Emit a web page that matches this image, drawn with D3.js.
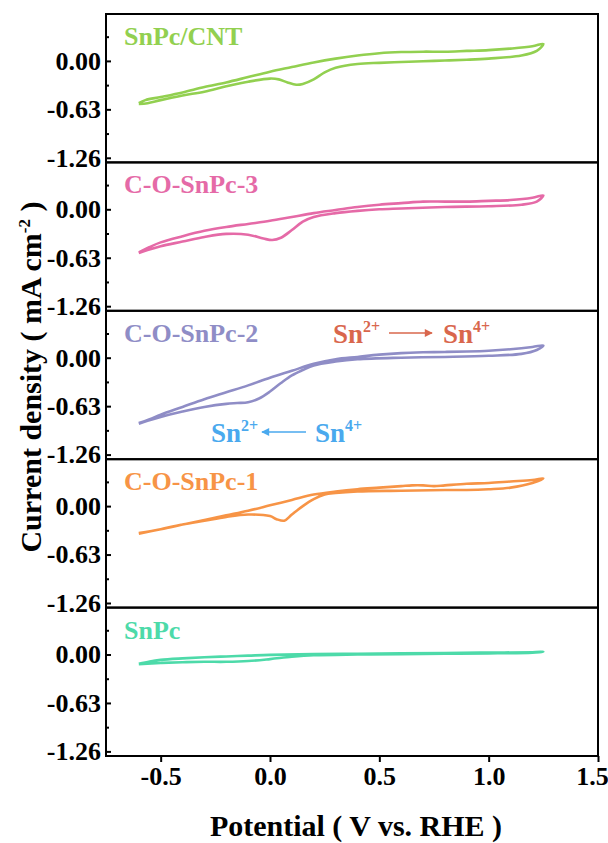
<!DOCTYPE html>
<html>
<head>
<meta charset="utf-8">
<script src="https://cdn.jsdelivr.net/npm/d3@7/dist/d3.min.js"></script>
<style>
  html, body { margin: 0; padding: 0; background: #fff; }
  svg text { font-family: "Liberation Serif", "Times New Roman", serif; font-weight: bold; }
</style>
</head>
<body>
<svg id="chart" width="608" height="843"></svg>
<script>
// Cyclic voltammograms, five stacked panels (potential in V vs. RHE, current density in mA cm^-2)
const seriesNames = ["SnPc/CNT", "C-O-SnPc-3", "C-O-SnPc-2", "C-O-SnPc-1", "SnPc"];
const seriesColors = ["#92d050", "#e56aa7", "#8f8dc6", "#f79446", "#4ddaa9"];

// Each loop: anodic sweep (-0.6 -> 1.25 V) then cathodic sweep back, as [potential, current]
const snpcCntAnodic = [[-0.6,-0.55],[-0.57,-0.51],[-0.5,-0.47],[-0.4,-0.41],[-0.3,-0.34],[-0.2,-0.28],[-0.1,-0.21],[0,-0.14],[0.1,-0.08],[0.2,-0.02],[0.3,0.03],[0.4,0.07],[0.5,0.1],[0.6,0.115],[0.7,0.12],[0.8,0.12],[0.9,0.13],[1.0,0.14],[1.1,0.16],[1.2,0.19],[1.25,0.22]];
const snpcCntCathodic = [[1.22,0.13],[1.15,0.07],[1.0,0.03],[0.9,0.015],[0.8,0.005],[0.7,-0.005],[0.6,-0.015],[0.5,-0.025],[0.4,-0.04],[0.3,-0.09],[0.25,-0.15],[0.2,-0.24],[0.15,-0.3],[0.12,-0.31],[0.08,-0.28],[0.04,-0.24],[0,-0.23],[-0.1,-0.27],[-0.2,-0.33],[-0.3,-0.4],[-0.4,-0.45],[-0.5,-0.51],[-0.56,-0.55],[-0.6,-0.56]];

const cosnpc3Anodic = [[-0.6,-0.56],[-0.55,-0.49],[-0.5,-0.43],[-0.4,-0.35],[-0.3,-0.28],[-0.2,-0.23],[-0.1,-0.19],[0,-0.15],[0.1,-0.1],[0.2,-0.05],[0.3,-0.01],[0.4,0.03],[0.5,0.06],[0.6,0.08],[0.7,0.1],[0.8,0.1],[0.9,0.1],[1.0,0.11],[1.1,0.12],[1.2,0.15],[1.25,0.18]];
const cosnpc3Cathodic = [[1.22,0.1],[1.15,0.06],[1.0,0.04],[0.8,0.03],[0.6,0.01],[0.5,0.0],[0.4,-0.02],[0.3,-0.05],[0.2,-0.1],[0.15,-0.16],[0.1,-0.27],[0.05,-0.37],[0.01,-0.4],[-0.03,-0.38],[-0.1,-0.33],[-0.2,-0.32],[-0.3,-0.36],[-0.4,-0.42],[-0.5,-0.48],[-0.56,-0.53],[-0.6,-0.57]];

const cosnpc2Anodic = [[-0.6,-0.85],[-0.55,-0.8],[-0.5,-0.74],[-0.4,-0.64],[-0.3,-0.54],[-0.2,-0.45],[-0.1,-0.36],[0,-0.26],[0.1,-0.17],[0.2,-0.08],[0.3,-0.02],[0.4,0.01],[0.5,0.04],[0.6,0.06],[0.7,0.07],[0.8,0.075],[0.9,0.08],[1.0,0.09],[1.1,0.11],[1.2,0.14],[1.25,0.16]];
const cosnpc2Cathodic = [[1.22,0.1],[1.15,0.05],[1.0,0.025],[0.8,0.01],[0.6,0.0],[0.4,-0.02],[0.3,-0.05],[0.2,-0.1],[0.15,-0.16],[0.1,-0.23],[0.05,-0.33],[0,-0.44],[-0.05,-0.53],[-0.1,-0.58],[-0.15,-0.59],[-0.2,-0.6],[-0.3,-0.64],[-0.4,-0.7],[-0.5,-0.77],[-0.56,-0.82],[-0.6,-0.86]];

const cosnpc1Anodic = [[-0.6,-0.35],[-0.5,-0.3],[-0.4,-0.24],[-0.3,-0.18],[-0.2,-0.12],[-0.1,-0.06],[0,0.01],[0.1,0.08],[0.2,0.15],[0.3,0.19],[0.4,0.22],[0.5,0.24],[0.6,0.26],[0.65,0.27],[0.7,0.27],[0.75,0.26],[0.8,0.27],[0.9,0.29],[1.0,0.3],[1.1,0.32],[1.2,0.34],[1.25,0.36]];
const cosnpc1Cathodic = [[1.2,0.3],[1.1,0.24],[1.0,0.22],[0.9,0.21],[0.8,0.21],[0.6,0.2],[0.4,0.19],[0.3,0.17],[0.25,0.15],[0.2,0.09],[0.15,0.0],[0.1,-0.11],[0.065,-0.19],[0.03,-0.17],[0,-0.13],[-0.1,-0.11],[-0.2,-0.14],[-0.3,-0.19],[-0.4,-0.24],[-0.5,-0.3],[-0.6,-0.36]];

const snpcAnodic = [[-0.6,-0.12],[-0.55,-0.09],[-0.5,-0.07],[-0.4,-0.05],[-0.3,-0.035],[-0.2,-0.025],[-0.1,-0.015],[0,-0.005],[0.2,0.005],[0.4,0.01],[0.6,0.015],[0.8,0.02],[1.0,0.025],[1.2,0.03],[1.25,0.035]];
const snpcCathodic = [[1.2,0.025],[1.0,0.015],[0.8,0.01],[0.6,0.005],[0.4,0.0],[0.2,-0.01],[0.1,-0.03],[0,-0.06],[-0.1,-0.085],[-0.2,-0.095],[-0.3,-0.095],[-0.4,-0.1],[-0.5,-0.11],[-0.6,-0.125]];

const loops = [
  snpcCntAnodic.concat(snpcCntCathodic),
  cosnpc3Anodic.concat(cosnpc3Cathodic),
  cosnpc2Anodic.concat(cosnpc2Cathodic),
  cosnpc1Anodic.concat(cosnpc1Cathodic),
  snpcAnodic.concat(snpcCathodic)
];

const xTicks = [-0.5, 0, 0.5, 1.0, 1.5];
const xTickLabels = ["-0.5", "0.0", "0.5", "1.0", "1.5"];
const yTicks = [0, -0.63, -1.26];
const yTickLabels = ["0.00", "-0.63", "-1.26"];
const yMinorTicks = [0.315, -0.315, -0.945];

// ---- layout ----
const plotLeft = 106, plotRight = 598, plotTop = 14, plotBottom = 756;
const panelH = (plotBottom - plotTop) / seriesNames.length;
const serif = "'Liberation Serif', 'Times New Roman', serif";

const svg = d3.select("#chart");
const x = d3.scaleLinear().domain([-0.75, 1.5]).range([plotLeft, plotRight]);

seriesNames.forEach((name, i) => {
  const top = plotTop + i * panelH;
  const y = d3.scaleLinear().domain([-1.32, 0.61]).range([top + panelH, top]);
  const g = svg.append("g");

  // voltammogram loop
  g.append("path")
    .attr("d", d3.line().x(d => x(d[0])).y(d => y(d[1])).curve(d3.curveCatmullRom.alpha(0.5))(loops[i]))
    .attr("fill", "none")
    .attr("stroke", seriesColors[i])
    .attr("stroke-width", 2.6)
    .attr("stroke-linejoin", "round");

  // left axis, ticks pointing inward
  const ax = g.append("g")
    .attr("transform", `translate(${plotLeft},0)`)
    .call(d3.axisLeft(y).tickValues(yTicks).tickSize(-5).tickPadding(5)
      .tickFormat((d, k) => yTickLabels[k]));
  ax.select(".domain").remove();
  ax.selectAll(".tick line").attr("stroke", "#000").attr("stroke-width", 2);
  ax.selectAll(".tick text")
    .attr("font-size", 26).attr("fill", "#000")
    .style("font-family", serif).style("font-weight", "bold");

  const mn = g.append("g")
    .attr("transform", `translate(${plotLeft},0)`)
    .call(d3.axisLeft(y).tickValues(yMinorTicks).tickSize(-3).tickFormat(""));
  mn.select(".domain").remove();
  mn.selectAll(".tick line").attr("stroke", "#000").attr("stroke-width", 2);

  // panel frame
  g.append("rect")
    .attr("x", plotLeft).attr("y", top)
    .attr("width", plotRight - plotLeft).attr("height", panelH)
    .attr("fill", "none").attr("stroke", "#000").attr("stroke-width", 2);

  // series label
  g.append("text")
    .attr("x", 124).attr("y", top + 31)
    .attr("font-size", 26)
    .attr("fill", seriesColors[i])
    .text(name);
});

// bottom axis, ticks outward
const xa = svg.append("g")
  .attr("transform", `translate(0,${plotBottom})`)
  .call(d3.axisBottom(x).tickValues(xTicks).tickSize(6).tickPadding(5)
    .tickFormat((d, k) => xTickLabels[k]));
xa.select(".domain").remove();
xa.selectAll(".tick line").attr("stroke", "#000").attr("stroke-width", 2);
xa.selectAll(".tick text")
  .attr("font-size", 26).attr("fill", "#000")
  .style("font-family", serif).style("font-weight", "bold");
// keep the last label inside the page edge
xa.selectAll(".tick text").filter((d, k) => k === xTicks.length - 1).attr("dx", -6);

// axis titles
svg.append("text")
  .attr("x", 356).attr("y", 836)
  .attr("text-anchor", "middle")
  .attr("font-size", 30)
  .text("Potential ( V vs. RHE )");

const yt = svg.append("text")
  .attr("transform", "translate(41,377) rotate(-90)")
  .attr("text-anchor", "middle")
  .attr("font-size", 30);
yt.append("tspan").text("Current density ( mA cm");
yt.append("tspan").attr("font-size", 17).attr("dy", -11).text("-2");
yt.append("tspan").attr("dy", 11).text(" )");

// redox annotations
function ionLabel(parent, xPos, yPos, charge, color) {
  const t = parent.append("text")
    .attr("x", xPos).attr("y", yPos)
    .attr("font-size", 27).attr("fill", color);
  t.append("tspan").text("Sn");
  t.append("tspan").attr("font-size", 16).attr("dy", -11).text(charge);
  return t;
}
const defs = svg.append("defs");
[["headRed", "#d9674d"], ["headBlue", "#4aa9ee"]].forEach(([id, c]) => {
  defs.append("marker").attr("id", id)
    .attr("viewBox", "0 0 10 10").attr("refX", 9).attr("refY", 5)
    .attr("markerWidth", 10).attr("markerHeight", 8).attr("markerUnits", "userSpaceOnUse")
    .attr("orient", "auto")
    .append("path").attr("d", "M0,0 L10,5 L0,10 Z").attr("fill", c);
});

const ann = svg.append("g");
ionLabel(ann, 333, 343, "2+", "#d9674d");
ann.append("line").attr("x1", 389).attr("y1", 333).attr("x2", 432).attr("y2", 333)
  .attr("stroke", "#d9674d").attr("stroke-width", 1.5).attr("marker-end", "url(#headRed)");
ionLabel(ann, 443, 343, "4+", "#d9674d");

ionLabel(ann, 211, 442, "2+", "#4aa9ee");
ann.append("line").attr("x1", 306).attr("y1", 432).attr("x2", 262).attr("y2", 432)
  .attr("stroke", "#4aa9ee").attr("stroke-width", 1.5).attr("marker-end", "url(#headBlue)");
ionLabel(ann, 315, 442, "4+", "#4aa9ee");
</script>
</body>
</html>
